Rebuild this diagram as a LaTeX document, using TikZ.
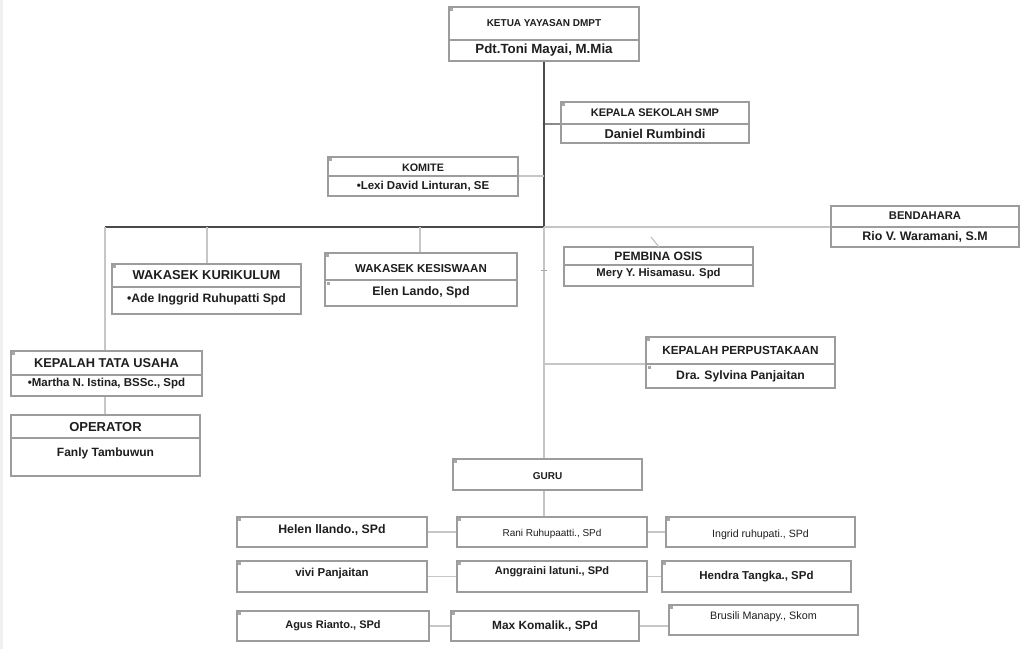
\documentclass[tikz,border=0pt]{standalone}
\usepackage{fontspec}
\setmainfont{Liberation Sans}
\usetikzlibrary{fit}
\definecolor{boxc}{HTML}{9C9C9C}
\definecolor{txtc}{HTML}{1E1E1E}
\definecolor{lightc}{HTML}{C6C6C6}
\definecolor{midc}{HTML}{8A8A8A}
\definecolor{darkc}{HTML}{4A4A4A}
\definecolor{markc}{HTML}{A8A8A8}
\newcommand\fs[1]{\fontsize{#1}{#1}\selectfont}
\tikzset{
  box/.style={draw=boxc, line width=1.3pt, inner sep=0pt, fill=white},
  divl/.style={draw=boxc, line width=1.1pt},
  ttl/.style={text=txtc, inner sep=0pt, font=\bfseries},
  lnk/.style={draw=lightc, line width=1.2pt},
  lnkm/.style={draw=midc, line width=1.2pt},
  lnkd/.style={draw=darkc, line width=1.6pt},
  mk/.style={fill=markc},
}
\begin{document}
\begin{tikzpicture}[x=1pt,y=-1pt]
\useasboundingbox (0,0) rectangle (1020,649);
\fill[white] (0,0) rectangle (1020,649);
\fill[gray!12] (0,0) rectangle (3,649);

\coordinate (j) at (544,227);
\coordinate (jl) at (105,227);

% ---------- boxes ----------
\node[box, fit={(449,7) (639,61)}] (kt) {};
\node[box, fit={(561,102) (749,143)}] (ks) {};
\node[box, fit={(328,157) (518,196)}] (km) {};
\node[box, fit={(831,206) (1019,247)}] (bd) {};
\node[box, fit={(112,264) (301,314)}] (wk) {};
\node[box, fit={(325,253) (517,306)}] (ws) {};
\node[box, fit={(564,247) (753,286)}] (po) {};
\node[box, fit={(11,351) (202,396)}] (tu) {};
\node[box, fit={(11,415) (200,476)}] (op) {};
\node[box, fit={(646,337) (835,388)}] (pp) {};
\node[box, fit={(453,459) (642,490)}] (gu) {};
\node[box, fit={(237,517) (427,547)}] (t1) {};
\node[box, fit={(457,517) (647,547)}] (t2) {};
\node[box, fit={(666,517) (855,547)}] (t3) {};
\node[box, fit={(237,561) (427,592)}] (t4) {};
\node[box, fit={(457,561) (647,592)}] (t5) {};
\node[box, fit={(662,561) (851,592)}] (t6) {};
\node[box, fit={(237,611) (429,641)}] (t7) {};
\node[box, fit={(451,611) (639,641)}] (t8) {};
\node[box, fit={(669,605) (858,635)}] (t9) {};

% ---------- connectors ----------
\draw[lnkd] (kt.south -| j) -- (j);
\draw[lnkd] (jl) -- (j);
\draw[lnk] (j) -- (bd.west |- j);
\draw[lnk] (j) -- (gu.north -| j);
\draw[lnk] (gu.south -| j) -- (t2.north -| j);
\draw[lnkm] (j |- 0,124) -- (ks.west |- 0,124);
\fill[darkc] (544,124) circle (1.3);
\draw[lnk] (km.east |- 0,176) -- (j |- 0,176);
\draw[lnk] (jl) -- (tu.north -| jl);
\draw[lnk] (207,227) -- (wk.north -| 207,0);
\draw[lnk] (420,227) -- (ws.north -| 420,0);
\draw[lnk] (tu.south -| jl) -- (op.north -| jl);
\draw[lnk] (j |- 0,364) -- (pp.west |- 0,364);
\draw[lnk] (651,237) -- (659,247);
\draw[draw=markc, line width=0.8pt] (541,270) -- (547,270);
\draw[lnk] (t1.east) -- (t2.west);
\draw[lnk] (t2.east) -- (t3.west);
\draw[lnk] (t4.east) -- (t5.west);
\draw[lnk] (t5.east) -- (t6.west);
\draw[lnk] (t7.east) -- (t8.west);
\draw[lnk] (t8.east) -- (t9.west |- t8.east);

% ---------- dividers ----------
\draw[divl] (kt.west |- 0,40) -- (kt.east |- 0,40);
\draw[divl] (ks.west |- 0,124) -- (ks.east |- 0,124);
\draw[divl] (km.west |- 0,176) -- (km.east |- 0,176);
\draw[divl] (bd.west |- 0,227) -- (bd.east |- 0,227);
\draw[divl] (wk.west |- 0,287) -- (wk.east |- 0,287);
\draw[divl] (ws.west |- 0,280) -- (ws.east |- 0,280);
\draw[divl] (po.west |- 0,265) -- (po.east |- 0,265);
\draw[divl] (tu.west |- 0,375) -- (tu.east |- 0,375);
\draw[divl] (op.west |- 0,438) -- (op.east |- 0,438);
\draw[divl] (pp.west |- 0,364) -- (pp.east |- 0,364);

% ---------- corner marks ----------
\foreach \b in {kt,ks,km,wk,ws,tu,pp,gu,t1,t2,t3,t4,t5,t6,t7,t8,t9}
  \fill[mk] ([shift={(2,2)}]\b.north west) rectangle +(3,3);
\fill[mk] (327,282) rectangle +(3,3);
\fill[mk] (648,366) rectangle +(3,3);

% ---------- texts ----------
\node[ttl, font=\bfseries\fs{10}] (kt-a) at (kt.center |- 0,23) {KETUA YAYASAN DMPT};
\node[ttl, font=\bfseries\fs{13.3}] (kt-b) at (kt.center |- 0,50) {Pdt.Toni Mayai, M.Mia};
\node[ttl, font=\bfseries\fs{11}] (ks-a) at (ks.center |- 0,113) {KEPALA SEKOLAH SMP};
\node[ttl, font=\bfseries\fs{12.8}] (ks-b) at (ks.center |- 0,134) {Daniel Rumbindi};
\node[ttl, font=\bfseries\fs{10.8}] (km-a) at (km.center |- 0,168) {KOMITE};
\node[ttl, font=\bfseries\fs{11.5}] (km-b) at (km.center |- 0,186) {•Lexi David Linturan, SE};
\node[ttl, font=\bfseries\fs{11.2}] (bd-a) at (bd.center |- 0,216) {BENDAHARA};
\node[ttl, font=\bfseries\fs{12.4}] (bd-b) at (bd.center |- 0,237) {Rio V. Waramani, S.M};
\node[ttl, font=\bfseries\fs{12.9}] (wk-a) at (wk.center |- 0,275) {WAKASEK KURIKULUM};
\node[ttl, font=\bfseries\fs{12.2}] (wk-b) at (wk.center |- 0,299) {•Ade Inggrid Ruhupatti Spd};
\node[ttl, font=\bfseries\fs{11.5}] (ws-a) at (ws.center |- 0,269) {WAKASEK KESISWAAN};
\node[ttl, font=\bfseries\fs{12.4}] (ws-b) at (ws.center |- 0,292) {Elen Lando, Spd};
\node[ttl, font=\bfseries\fs{12.1}] (po-a) at (po.center |- 0,256) {PEMBINA OSIS};
\node[ttl, font=\bfseries\fs{11.3}] (po-b) at (po.center |- 0,274) {Mery Y. Hisamasu. Spd};
\node[ttl, font=\bfseries\fs{12.8}] (tu-a) at (tu.center |- 0,363) {KEPALAH TATA USAHA};
\node[ttl, font=\bfseries\fs{11.5}] (tu-b) at (tu.center |- 0,384) {•Martha N. Istina, BSSc., Spd};
\node[ttl, font=\bfseries\fs{13}] (op-a) at (op.center |- 0,427) {OPERATOR};
\node[ttl, font=\bfseries\fs{12}] (op-b) at (op.center |- 0,453) {Fanly Tambuwun};
\node[ttl, font=\bfseries\fs{11.75}] (pp-a) at (pp.center |- 0,350) {KEPALAH PERPUSTAKAAN};
\node[ttl, font=\bfseries\fs{12.2}] (pp-b) at (pp.center |- 0,376) {Dra. Sylvina Panjaitan};
\node[ttl, font=\bfseries\fs{10}] (gu-a) at (gu.center |- 0,476) {GURU};
\node[ttl, font=\bfseries\fs{12.3}] (t1-a) at (t1.center |- 0,530) {Helen llando., SPd};
\node[ttl, font=\fs{10}] (t2-a) at (t2.center |- 0,534) {Rani Ruhupaatti., SPd};
\node[ttl, font=\fs{10.6}] (t3-a) at (t3.center |- 0,535) {Ingrid ruhupati., SPd};
\node[ttl, font=\bfseries\fs{11.5}] (t4-a) at (t4.center |- 0,574) {vivi Panjaitan};
\node[ttl, font=\bfseries\fs{11}] (t5-a) at (t5.center |- 0,572) {Anggraini latuni., SPd};
\node[ttl, font=\bfseries\fs{11.5}] (t6-a) at (t6.center |- 0,577) {Hendra Tangka., SPd};
\node[ttl, font=\bfseries\fs{11}] (t7-a) at (t7.center |- 0,626) {Agus Rianto., SPd};
\node[ttl, font=\bfseries\fs{11.9}] (t8-a) at (t8.center |- 0,626) {Max Komalik., SPd};
\node[ttl, font=\fs{10.8}] (t9-a) at (t9.center |- 0,617) {Brusili Manapy., Skom};
\end{tikzpicture}
\end{document}
